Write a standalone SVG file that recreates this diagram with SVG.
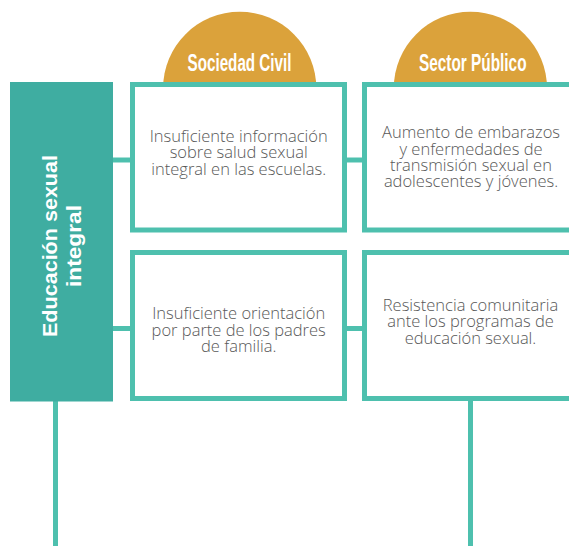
<svg xmlns="http://www.w3.org/2000/svg" width="569" height="546" viewBox="0 0 569 546">
  <style>
    .box { fill: #ffffff; stroke: #4ec0ae; stroke-width: 5; }
    .conn { stroke: #4ec0ae; stroke-width: 5; fill: none; }
    .cap { fill: #dba23b; }
    .capt { font-family: "Liberation Sans", Arial, sans-serif; font-weight: bold; font-size: 23.5px; fill: #ffffff; text-anchor: middle; }
    .body { font-family: "Open Sans", "Liberation Sans", sans-serif; font-weight: 300; font-size: 16.5px; fill: #585858; text-anchor: middle; }
    .main { font-family: "Liberation Sans", Arial, sans-serif; font-weight: bold; font-size: 20.5px; fill: #ffffff; text-anchor: middle; }
  </style>
  <rect width="569" height="546" fill="#ffffff"/>
  <g id="connectors">
    <line class="conn" x1="113" y1="160" x2="132" y2="160"/>
    <line class="conn" x1="113" y1="328.5" x2="132" y2="328.5"/>
    <line class="conn" x1="345" y1="160" x2="364" y2="160"/>
    <line class="conn" x1="345" y1="328.5" x2="364" y2="328.5"/>
    <line class="conn" x1="55.5" y1="400" x2="55.5" y2="546"/>
    <line class="conn" x1="470.5" y1="399" x2="470.5" y2="546"/>
  </g>
  <g id="header-sociedad-civil">
    <circle class="cap" cx="239.7" cy="88.3" r="76.6"/>
    <text class="capt" x="239.5" y="70.7" textLength="104" lengthAdjust="spacingAndGlyphs">Sociedad Civil</text>
  </g>
  <g id="header-sector-publico">
    <circle class="cap" cx="470.4" cy="88.3" r="76.6"/>
    <text class="capt" x="472.8" y="70.7" textLength="107.5" lengthAdjust="spacingAndGlyphs">Sector Público</text>
  </g>
  <g id="main-educacion">
    <rect x="10" y="82" width="103" height="319.5" fill="#3fada1"/>
    <text class="main" transform="translate(56.5,246) rotate(-90)" textLength="182" lengthAdjust="spacingAndGlyphs">Educación sexual</text>
    <text class="main" transform="translate(81,246) rotate(-90)" textLength="82" lengthAdjust="spacingAndGlyphs">integral</text>
  </g>
  <g id="node-sc-1">
    <rect class="box" x="132.5" y="84.5" width="212" height="145.5"/>
    <text class="body" x="238.7" y="141.7">Insuficiente información</text>
    <text class="body" x="238.7" y="158.2">sobre salud sexual</text>
    <text class="body" x="238.7" y="174.7">integral en las escuelas.</text>
  </g>
  <g id="node-sp-1">
    <rect class="box" x="364.5" y="84.5" width="215" height="145.5"/>
    <text class="body" x="471" y="138.3">Aumento de embarazos</text>
    <text class="body" x="471" y="154.6">y enfermedades de</text>
    <text class="body" x="471" y="170.9">transmisión sexual en</text>
    <text class="body" x="471" y="187.2">adolescentes y jóvenes.</text>
  </g>
  <g id="node-sc-2">
    <rect class="box" x="132.5" y="252.5" width="212" height="146"/>
    <text class="body" x="238.7" y="319.3">Insuficiente orientación</text>
    <text class="body" x="238.7" y="335.8">por parte de los padres</text>
    <text class="body" x="238.7" y="352.3">de familia.</text>
  </g>
  <g id="node-sp-2">
    <rect class="box" x="364.5" y="252.5" width="215" height="146"/>
    <text class="body" x="470.5" y="310.7">Resistencia comunitaria</text>
    <text class="body" x="470.5" y="327.2">ante los programas de</text>
    <text class="body" x="470.5" y="343.7">educación sexual.</text>
  </g>
</svg>
